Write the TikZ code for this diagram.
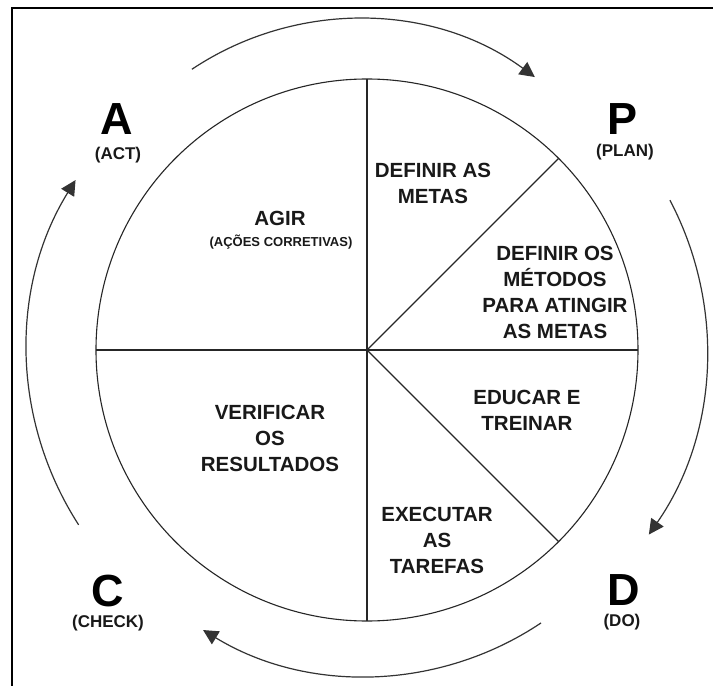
\documentclass[tikz,border=0pt]{standalone}
\usepackage{fontspec}
\setmainfont{Liberation Sans}
\usetikzlibrary{arrows.meta}
\begin{document}
\begin{tikzpicture}[x=1pt,y=1pt,
  line/.style={draw=black!85, line width=1.1pt},
  cyc/.style={draw=black!80, line width=1.2pt, -{Triangle[length=15pt,width=15pt]}},
  main/.style={font=\fontsize{20.5}{26}\selectfont\bfseries, align=center, text=black!90, inner sep=0pt},
  sub/.style={font=\fontsize{13}{15}\selectfont\bfseries, text=black!90, inner sep=0pt},
  big/.style={font=\fontsize{45}{45}\selectfont\bfseries, inner sep=0pt, anchor=base},
  lab/.style={font=\fontsize{17}{19}\selectfont\bfseries, text=black!90, inner sep=0pt, anchor=base}]
\useasboundingbox (-367,-336) rectangle (346,350);
\fill[white] (-367,-336) rectangle (346,350);
% frame
\draw[line width=1.6pt] (346,342) -- (-355,342) -- (-355,-336);
% circle and sectors
\coordinate (O) at (0,0);
\draw[line] (O) circle (271);
\draw[line] (90:271) -- (-90:271);
\draw[line] (180:271) -- (0:271);
\draw[line] (O) -- (45:271);
\draw[line] (O) -- (-45:271);
% cycle arcs
\draw[cyc] ([shift={(-9.2,32)}]123.7:299) arc[start angle=123.7, end angle=53.7, radius=299];
\draw[cyc] (27:340 and 330) arc[start angle=27, end angle=-34, x radius=340, y radius=330];
\draw[cyc] ([shift={(-0.5,-12.3)}]-56.2:313.7) arc[start angle=-56.2, end angle=-121.4, radius=313.7];
\draw[cyc] (-148:340 and 330) arc[start angle=-148, end angle=-211, x radius=340, y radius=330];
% sector texts
\node[main] (agir) at (-87,132) {AGIR};
\node[sub] (acoes) at (-86,108) {(AÇÕES CORRETIVAS)};
\node[main] (metas) at (66,167) {DEFINIR AS\\METAS};
\node[main] (metodos) at (188,57.5) {DEFINIR OS\\MÉTODOS\\PARA ATINGIR\\AS METAS};
\node[main] (educar) at (160,-60) {EDUCAR E\\TREINAR};
\node[main] (executar) at (70,-190) {EXECUTAR\\AS\\TAREFAS};
\node[main] (verificar) at (-97,-88) {VERIFICAR\\OS\\RESULTADOS};
% PDCA letters
\node[big] (A) at (-250,215) {A};
\node[lab] (act) at (-249,190) {(ACT)};
\node[big] (P) at (256,215) {P};
\node[lab] (plan) at (258,193) {(PLAN)};
\node[big] (C) at (-259,-256) {C};
\node[lab] (check) at (-259,-277) {(CHECK)};
\node[big] (D) at (257,-255) {D};
\node[lab] (do) at (255,-276) {(DO)};
\end{tikzpicture}
\end{document}
